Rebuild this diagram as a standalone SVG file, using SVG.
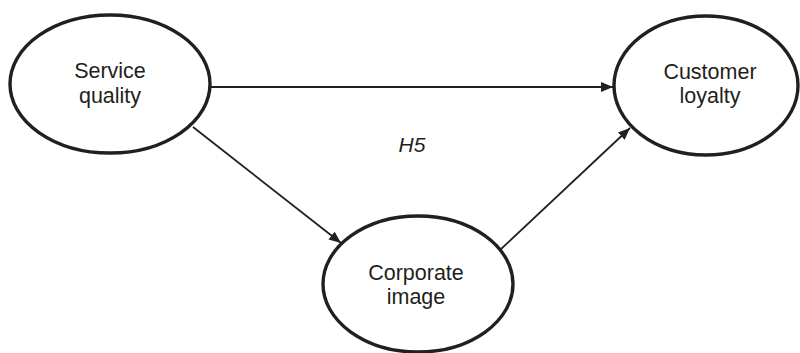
<svg xmlns="http://www.w3.org/2000/svg" width="800" height="353" viewBox="0 0 800 353">
<style>
.node ellipse{fill:#fff;stroke:#231f20;stroke-width:3.4}
.node text{font-family:"Liberation Sans",Arial,sans-serif;font-size:21.5px;fill:#231f20;text-anchor:middle}
.conn line{stroke:#231f20;stroke-width:1.8;fill:none}
.lbl{font-family:"Liberation Sans",Arial,sans-serif;font-size:21px;font-style:italic;fill:#231f20;text-anchor:middle}
</style>
<defs>
<marker id="ah" viewBox="0 0 12 10" refX="12" refY="5" markerWidth="12" markerHeight="10" markerUnits="userSpaceOnUse" orient="auto">
<path d="M0,0 L12,5 L0,10 z" fill="#231f20"/>
</marker>
</defs>
<g class="conn">
<line x1="211" y1="87" x2="613" y2="87" marker-end="url(#ah)"/>
<line x1="193" y1="127" x2="341" y2="243" marker-end="url(#ah)"/>
<line x1="500" y1="250" x2="630" y2="128" marker-end="url(#ah)"/>
</g>
<text class="lbl" x="412" y="152">H5</text>
<g id="service-quality" class="node">
<ellipse cx="110" cy="84" rx="100" ry="69"/>
<text x="110" y="78">Service</text>
<text x="110" y="103">quality</text>
</g>
<g id="customer-loyalty" class="node">
<ellipse cx="706" cy="85.5" rx="92" ry="69.5"/>
<text x="710" y="79">Customer</text>
<text x="710" y="103">loyalty</text>
</g>
<g id="corporate-image" class="node">
<ellipse cx="418" cy="284" rx="95" ry="68"/>
<text x="416" y="280">Corporate</text>
<text x="416" y="304">image</text>
</g>
</svg>
